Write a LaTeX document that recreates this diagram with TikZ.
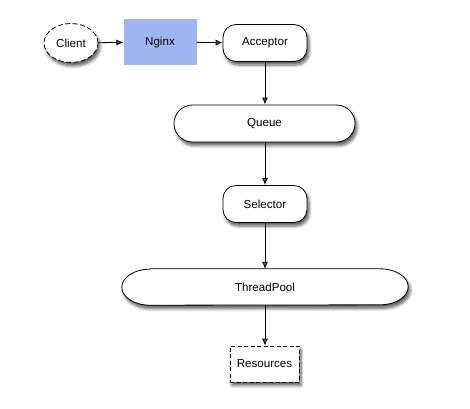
\documentclass[tikz,border=0pt]{standalone}
\usepackage{fontspec}
\setmainfont{Liberation Sans}
\usetikzlibrary{shapes.geometric,shapes.misc,arrows.meta,shadows.blur}
\definecolor{nginxblue}{RGB}{160,182,240}
\tikzset{
  shd/.style={blur shadow={shadow xshift=2pt,shadow yshift=-3.5pt,shadow blur steps=6,shadow opacity=65,shadow blur radius=3pt}},
  lbl/.style={font=\fontsize{11.6}{13}\selectfont},
  boxbase/.style={draw=black,line width=0.8pt,fill=white,lbl,inner sep=0pt,shd},
  roundbox/.style={boxbase,rectangle,rounded corners=13pt},
  pill/.style={boxbase,rounded rectangle},
  arr/.style={-{Latex[length=7pt,width=6pt]},line width=0.8pt}
}
\begin{document}
\begin{tikzpicture}[x=1pt,y=-1pt]
\useasboundingbox (0,0) rectangle (470,408);
\node[boxbase,ellipse,dashed,dash pattern=on 5pt off 2.5pt,minimum width=54pt,minimum height=39pt] (client) at (71,43) {Client};
\node[rectangle,fill=nginxblue,minimum width=73pt,minimum height=46pt,lbl] (nginx) at (160,42) {Nginx};
\node[roundbox,minimum width=84pt,minimum height=37pt] (acceptor) at (265,43) {Acceptor};
\node[pill,minimum width=181pt,minimum height=37pt] (queue) at (264.5,123.5) {Queue};
\node[roundbox,minimum width=84pt,minimum height=37pt] (selector) at (265,204) {Selector};
\node[draw=none,minimum width=286pt,minimum height=36pt,inner sep=0pt] (tp) at (265,287) {};
\path[boxbase] ([xshift=28pt]tp.north west) -- ([xshift=-28pt]tp.north east)
  arc[start angle=90,end angle=-90,x radius=28pt,y radius=18pt]
  -- ([xshift=28pt]tp.south west)
  arc[start angle=270,end angle=90,x radius=28pt,y radius=18pt] -- cycle;
\node[lbl] (tplabel) at (tp.center) {ThreadPool};
\node[boxbase,rectangle,dashed,dash pattern=on 4pt off 2.5pt,minimum width=69pt,minimum height=36pt] (res) at (264.5,364) {Resources};
\draw[arr] (client) -- (nginx);
\draw[arr] (nginx) -- (acceptor);
\draw[arr] (acceptor) -- (acceptor |- queue.north);
\draw[arr] (acceptor |- queue.south) -- (selector);
\draw[arr] (selector) -- (tp);
\draw[arr] (tp) -- (tp |- res.north);
\end{tikzpicture}
\end{document}
